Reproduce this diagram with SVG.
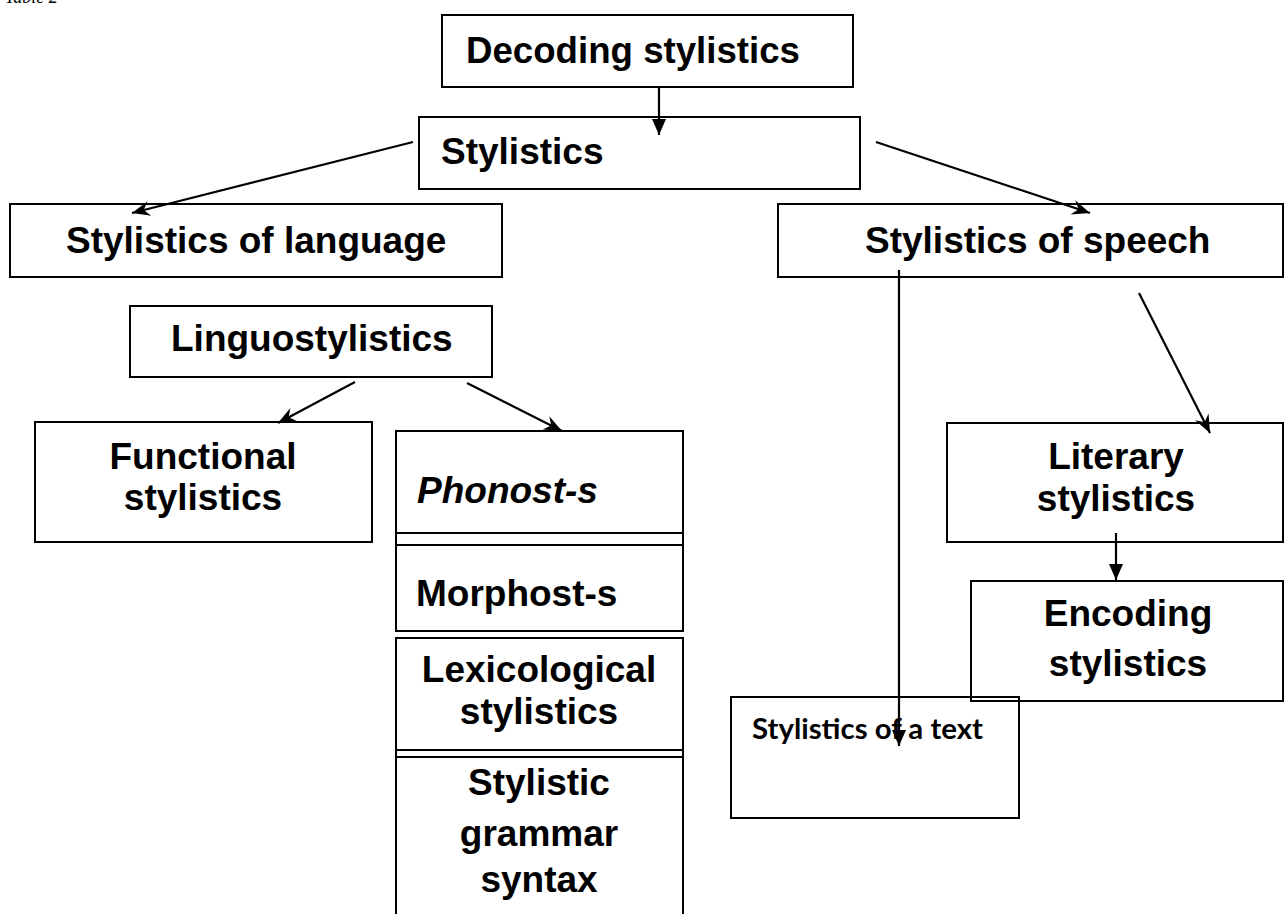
<svg xmlns="http://www.w3.org/2000/svg" width="1286" height="914" viewBox="0 0 1286 914">
  <defs>
    <style>
      .box { fill: #fff; stroke: #000; stroke-width: 2; }
      .open { fill: none; stroke: #000; stroke-width: 2; }
      .lbl { font-family: "Liberation Sans", Arial, sans-serif; font-weight: bold; font-size: 37px; fill: #000; }
      .mid { text-anchor: middle; }
      .small { font-family: Lato, "Open Sans", sans-serif; font-weight: bold; font-size: 28px; fill: #000; }
      .edge { fill: none; stroke: #000; stroke-width: 2.2; }
    </style>
    <!-- barbed head for the slanted connectors -->
    <marker id="barb" viewBox="-20 -9 22 18" refX="0" refY="0" markerWidth="22" markerHeight="18" markerUnits="userSpaceOnUse" orient="auto">
      <path d="M0,0 L-18,-7.5 L-12,0 L-18,7.5 Z" fill="#000"/>
    </marker>
    <!-- solid triangle for the vertical connectors -->
    <marker id="tri" viewBox="-18 -9 20 18" refX="0" refY="0" markerWidth="20" markerHeight="18" markerUnits="userSpaceOnUse" orient="auto">
      <path d="M0,0 L-16,-7 L-16,7 Z" fill="#000"/>
    </marker>
  </defs>

  <rect width="1286" height="914" fill="#fff"/>

  <!-- caption, clipped by the top edge -->
  <text x="5" y="3" font-family="'Liberation Serif', 'Times New Roman', serif" font-style="italic" font-size="18">Table 2</text>

  <g id="decoding">
    <rect class="box" x="442" y="15" width="411" height="72"/>
    <text class="lbl" x="466" y="63" textLength="334" lengthAdjust="spacingAndGlyphs">Decoding stylistics</text>
  </g>

  <g id="stylistics">
    <rect class="box" x="419" y="117" width="441" height="72"/>
    <text class="lbl" x="441" y="164">Stylistics</text>
  </g>

  <g id="language">
    <rect class="box" x="10" y="204" width="492" height="73"/>
    <text class="lbl" x="66" y="253">Stylistics of language</text>
  </g>

  <g id="speech">
    <rect class="box" x="778" y="204" width="505" height="73"/>
    <text class="lbl" x="865" y="253">Stylistics of speech</text>
  </g>

  <g id="linguostylistics">
    <rect class="box" x="130" y="306" width="362" height="71"/>
    <text class="lbl" x="171" y="351">Linguostylistics</text>
  </g>

  <g id="functional">
    <rect class="box" x="35" y="422" width="337" height="120"/>
    <text class="lbl mid" x="203" y="469">Functional</text>
    <text class="lbl mid" x="203" y="510">stylistics</text>
  </g>

  <g id="phonostylistics">
    <rect class="open" x="396" y="431" width="287" height="114"/>
    <text class="lbl" x="417" y="503" font-style="italic">Phonost-s</text>
  </g>

  <g id="morphostylistics">
    <rect class="open" x="396" y="533" width="287" height="98"/>
    <text class="lbl" x="416" y="606">Morphost-s</text>
  </g>

  <g id="lexicological">
    <rect class="open" x="396" y="638" width="287" height="119"/>
    <text class="lbl mid" x="539" y="682">Lexicological</text>
    <text class="lbl mid" x="539" y="724">stylistics</text>
  </g>

  <g id="grammar">
    <rect class="open" x="396" y="750" width="287" height="200"/>
    <text class="lbl mid" x="539" y="795">Stylistic</text>
    <text class="lbl mid" x="539" y="846">grammar</text>
    <text class="lbl mid" x="539" y="892">syntax</text>
  </g>

  <g id="literary">
    <rect class="box" x="947" y="423" width="336" height="119"/>
    <text class="lbl mid" x="1116" y="469">Literary</text>
    <text class="lbl mid" x="1116" y="511">stylistics</text>
  </g>

  <g id="text">
    <rect class="box" x="731" y="697" width="288" height="121"/>
    <text class="small" x="752" y="739" textLength="231" lengthAdjust="spacingAndGlyphs">Stylistics of a text</text>
  </g>

  <g id="encoding">
    <rect class="open" x="971" y="581" width="312" height="120"/>
    <text class="lbl mid" x="1128" y="626">Encoding</text>
    <text class="lbl mid" x="1128" y="676">stylistics</text>
  </g>

  <g id="connectors">
    <line class="edge" x1="659" y1="87" x2="659" y2="135" marker-end="url(#tri)"/>
    <line class="edge" x1="413" y1="142" x2="132" y2="213" marker-end="url(#barb)"/>
    <line class="edge" x1="876" y1="142" x2="1090" y2="213" marker-end="url(#barb)"/>
    <line class="edge" x1="355" y1="382" x2="278" y2="423" marker-end="url(#barb)"/>
    <line class="edge" x1="467" y1="383" x2="562" y2="431" marker-end="url(#barb)"/>
    <line class="edge" x1="1139" y1="293" x2="1210" y2="433" marker-end="url(#barb)"/>
    <line class="edge" x1="1116" y1="533" x2="1116" y2="580" marker-end="url(#tri)"/>
    <line class="edge" x1="899" y1="270" x2="899" y2="746" marker-end="url(#tri)"/>
  </g>
</svg>
